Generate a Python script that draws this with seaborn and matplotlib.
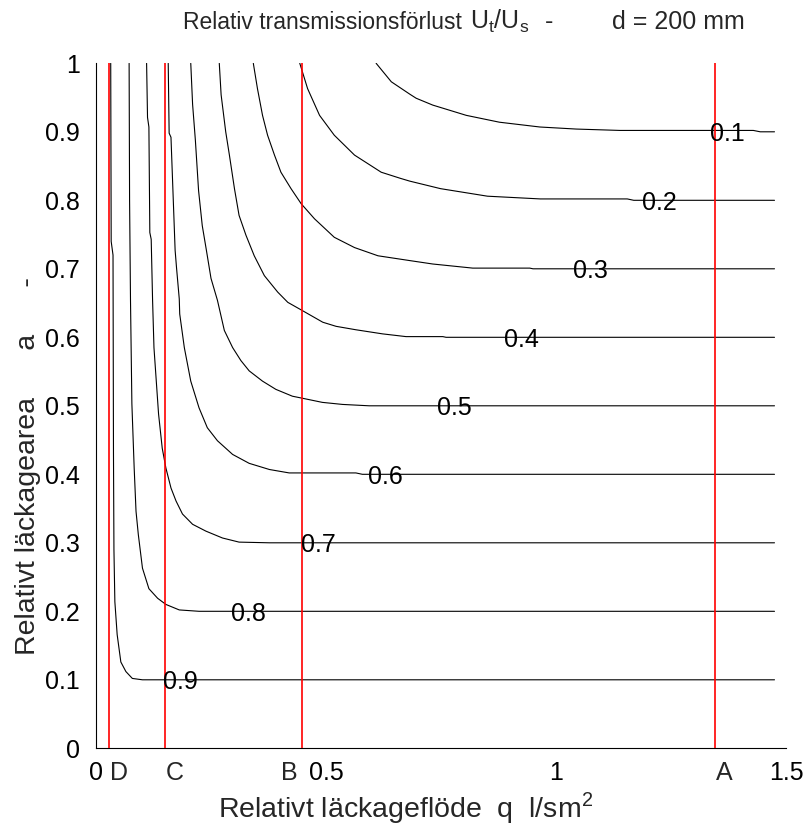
import numpy as np
import pandas as pd
import matplotlib
matplotlib.use("Agg")
import matplotlib.pyplot as plt
from matplotlib import font_manager as fm
import seaborn as sns

# ---------------- data ----------------
levels = ["0.1", "0.2", "0.3", "0.4", "0.5", "0.6", "0.7", "0.8", "0.9"]

q1 = [0.609, 0.642, 0.682, 0.696, 0.732, 0.805, 0.877, 0.965, 1.044, 1.139, 1.300, 1.429, 1.444, 1.475]
a1 = [1.000, 0.973, 0.955, 0.949, 0.939, 0.924, 0.914, 0.907, 0.904, 0.902, 0.902, 0.902, 0.900, 0.900]

q2 = [0.443, 0.460, 0.486, 0.518, 0.562, 0.620, 0.662, 0.682, 0.749, 0.851, 0.966, 1.155, 1.169, 1.475]
a2 = [1.000, 0.963, 0.924, 0.895, 0.866, 0.841, 0.832, 0.828, 0.817, 0.806, 0.802, 0.802, 0.800, 0.800]

q3 = [0.342, 0.351, 0.362, 0.373, 0.388, 0.402, 0.424, 0.446, 0.475, 0.518, 0.562, 0.613, 0.682, 0.732,
      0.819, 0.943, 0.950, 1.475]
a3 = [1.000, 0.963, 0.924, 0.895, 0.866, 0.841, 0.817, 0.795, 0.773, 0.746, 0.731, 0.719, 0.712, 0.707,
      0.701, 0.701, 0.700, 0.700]

q4 = [0.268, 0.272, 0.282, 0.290, 0.301, 0.311, 0.326, 0.344, 0.366, 0.395, 0.417, 0.446, 0.493, 0.522,
      0.565, 0.623, 0.674, 0.754, 0.761, 1.475]
a4 = [1.000, 0.954, 0.900, 0.866, 0.817, 0.778, 0.749, 0.719, 0.690, 0.666, 0.651, 0.640, 0.622, 0.616,
      0.611, 0.605, 0.601, 0.601, 0.600, 0.600]

q5 = [0.206, 0.210, 0.216, 0.223, 0.231, 0.240, 0.250, 0.264, 0.279, 0.297, 0.315, 0.333, 0.362, 0.391,
      0.427, 0.449, 0.492, 0.536, 0.594, 1.475]
a5 = [1.000, 0.940, 0.888, 0.814, 0.763, 0.727, 0.686, 0.654, 0.610, 0.585, 0.566, 0.551, 0.536, 0.524,
      0.514, 0.511, 0.505, 0.502, 0.500, 0.500]

q6 = [0.157, 0.159, 0.163, 0.172, 0.175, 0.181, 0.182, 0.192, 0.206, 0.224, 0.242, 0.264, 0.297, 0.333,
      0.377, 0.420, 0.449, 0.565, 0.579, 1.475]
a6 = [1.000, 0.898, 0.892, 0.727, 0.702, 0.656, 0.634, 0.585, 0.536, 0.497, 0.468, 0.449, 0.429, 0.416,
      0.407, 0.402, 0.402, 0.402, 0.400, 0.400]

q7 = [0.110, 0.112, 0.115, 0.117, 0.120, 0.123, 0.126, 0.136, 0.144, 0.152, 0.163, 0.174, 0.188, 0.210,
      0.239, 0.275, 0.311, 0.377, 1.475]
a7 = [1.000, 0.921, 0.907, 0.753, 0.743, 0.654, 0.585, 0.488, 0.438, 0.409, 0.380, 0.361, 0.342, 0.327,
      0.317, 0.307, 0.301, 0.300, 0.300]

q8 = [0.072, 0.073, 0.075, 0.078, 0.083, 0.087, 0.092, 0.101, 0.115, 0.134, 0.152, 0.181, 0.224, 1.475]
a8 = [1.000, 0.800, 0.654, 0.503, 0.409, 0.346, 0.312, 0.263, 0.233, 0.219, 0.210, 0.202, 0.200, 0.200]

q9 = [0.032, 0.033, 0.037, 0.038, 0.039, 0.041, 0.046, 0.054, 0.065, 0.079, 0.101, 1.475]
a9 = [1.000, 0.740, 0.720, 0.430, 0.290, 0.214, 0.166, 0.126, 0.112, 0.102, 0.100, 0.100]

# contour label anchors
label_q = [1.372, 1.224, 1.074, 0.925, 0.778, 0.630, 0.483, 0.331, 0.184]
label_a = [0.900, 0.800, 0.700, 0.600, 0.500, 0.400, 0.300, 0.200, 0.100]

# red reference lines
ref_names = ["D", "C", "B", "A"]
ref_q = [0.029, 0.150, 0.447, 1.346]

xtick_vals = [0, 0.5, 1, 1.5]
xtick_labels = ["0", "0.5", "1", "1.5"]
ytick_vals = [0, 0.1, 0.2, 0.3, 0.4, 0.5, 0.6, 0.7, 0.8, 0.9, 1]
ytick_labels = ["0", "0.1", "0.2", "0.3", "0.4", "0.5", "0.6", "0.7", "0.8", "0.9", "1"]

title_parts = ["Relativ transmissionsförlust", "U$_\\mathregular{t}$/U$_\\mathregular{s}$", "-", "d = 200 mm"]
xlabel_text = "Relativt läckageflöde  q  l/sm$^\\mathregular{2}$"
ylabel_text = "Relativt läckagearea      a      -"

# ---------------- styling ----------------
sns.set_theme(style="white")
names = {f.name for f in fm.fontManager.ttflist}
base = "Liberation Sans" if "Liberation Sans" in names else "DejaVu Sans"
plt.rcParams["font.family"] = [base, "DejaVu Sans"]
plt.rcParams["mathtext.fontset"] = "custom"
plt.rcParams["mathtext.rm"] = base

W, H = 805, 830
fig = plt.figure(figsize=(W / 100, H / 100), dpi=100)
fig.patch.set_facecolor("white")
x0, x1, y0, y1 = 96, 786, 748.3, 63.3
ax = fig.add_axes([x0 / W, 1 - y0 / H, (x1 - x0) / W, (y0 - y1) / H])
ax.set_facecolor("white")

frames = []
for lvl, q, a in zip(levels, [q1, q2, q3, q4, q5, q6, q7, q8, q9],
                     [a1, a2, a3, a4, a5, a6, a7, a8, a9]):
    frames.append(pd.DataFrame({"q": q, "a": a, "level": lvl}))
df = pd.concat(frames, ignore_index=True)

sns.lineplot(data=df, x="q", y="a", units="level", estimator=None, sort=False,
             color="black", lw=0.8, ax=ax, legend=False)

for name, xv in zip(ref_names, ref_q):
    ax.axvline(xv, color="#ff0000", lw=1.2, zorder=3, antialiased=True)

for lvl, xq, ya in zip(levels, label_q, label_a):
    ax.text(xq, ya, lvl, fontsize=18, ha="center", va="center_baseline", color="black", zorder=4)

ax.set_xlim(0, 1.5)
ax.set_ylim(0, 1)
ax.set_xticks(xtick_vals)
ax.set_xticklabels(xtick_labels)
ax.set_yticks(ytick_vals)
ax.set_yticklabels(ytick_labels)
ax.set_xlabel("")
ax.set_ylabel("")
ax.tick_params(axis="both", direction="in", length=6, width=0.8, colors="black", labelsize=18)
ax.tick_params(axis="y", pad=11.5)
ax.tick_params(axis="x", pad=9)
for s in ["top", "right"]:
    ax.spines[s].set_visible(False)
for s in ["left", "bottom"]:
    ax.spines[s].set_color("black")
    ax.spines[s].set_linewidth(0.8)

trans = ax.get_xaxis_transform()
for name, xv in zip(ref_names, ref_q):
    if name == "B":
        ax.text(xv - 0.008, -0.0185, name, transform=trans, ha="right", va="top", fontsize=18)
    else:
        ax.text(xv + 0.002, -0.0185, name, transform=trans, ha="left", va="top", fontsize=18)

# title in pieces
title_x = [183, 470, 545, 612]
title_fs = [16.5, 18, 18, 18]
for txt, xp, fs in zip(title_parts, title_x, title_fs):
    fig.text(xp / W, 1 - 29 / H, txt, ha="left", va="baseline", fontsize=fs)

fig.text(218 / W, 1 - 817 / H, xlabel_text, ha="left", va="baseline", fontsize=20.5)
fig.text(28 / W, 1 - 655 / H, ylabel_text, ha="center", va="bottom", rotation=90, fontsize=20.5)

fig.savefig("out.png", dpi=100, facecolor="white")
